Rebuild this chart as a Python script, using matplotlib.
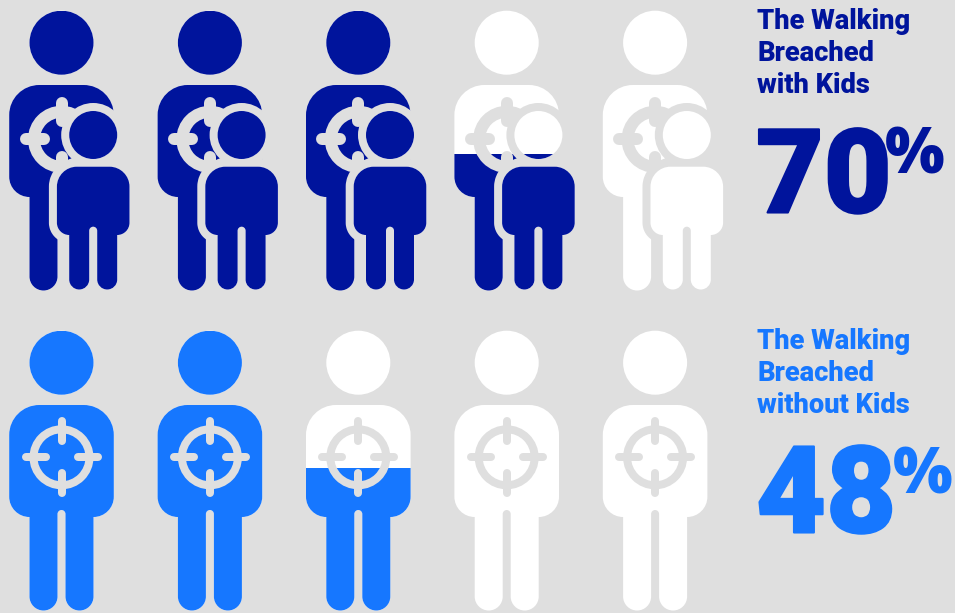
import matplotlib
matplotlib.use("Agg")
import matplotlib.pyplot as plt
import matplotlib.patheffects as pe
from matplotlib.patches import Circle, PathPatch, Rectangle
from matplotlib.path import Path

# Share of each icon that is filled, left to right
fill_with_kids = [1.0, 1.0, 1.0, 0.49, 0.0]
fill_without_kids = [1.0, 1.0, 0.51, 0.0, 0.0]
title_with_kids = ["The Walking", "Breached", "with Kids"]
title_without_kids = ["The Walking", "Breached", "without Kids"]
percent_with_kids = 70
percent_without_kids = 48

BG = "#DFDFDF"
DARK = "#00149C"
BRIGHT = "#1677FF"
EMPTY = "#FFFFFF"
FONT = "Roboto"

fig = plt.figure(figsize=(9.55, 6.13), dpi=100, facecolor=BG)
ax = fig.add_axes([0, 0, 1, 1])
ax.set_xlim(0, 955)
ax.set_ylim(613, 0)
ax.axis("off")

PX = 72 / 100
K = 0.5523


def person_path(cx, half_w, top, waist, leg_w, bottom, gap_top, gap_w, r_top):
    """Rounded torso with two round-ended legs, y growing downward."""
    inner = gap_w / 2
    outer = inner + leg_w
    r_hip = half_w - outer
    r_foot = leg_w / 2
    r_gap = gap_w / 2
    v, c = [], []

    def move(x, y):
        v.append((x, y))
        c.append(Path.MOVETO)

    def line(x, y):
        v.append((x, y))
        c.append(Path.LINETO)

    def corner(x0, y0, xc, yc, x1, y1):
        v.extend([(x0 + (xc - x0) * K, y0 + (yc - y0) * K),
                  (x1 + (xc - x1) * K, y1 + (yc - y1) * K), (x1, y1)])
        c.extend([Path.CURVE4] * 3)

    L, R = cx - half_w, cx + half_w
    move(L + r_top, top)
    line(R - r_top, top)
    corner(R - r_top, top, R, top, R, top + r_top)
    line(R, waist - r_hip)
    corner(R, waist - r_hip, R, waist, cx + outer, waist)
    line(cx + outer, bottom - r_foot)
    corner(cx + outer, bottom - r_foot, cx + outer, bottom, cx + inner + r_foot, bottom)
    corner(cx + inner + r_foot, bottom, cx + inner, bottom, cx + inner, bottom - r_foot)
    line(cx + inner, gap_top + r_gap)
    corner(cx + inner, gap_top + r_gap, cx + inner, gap_top, cx, gap_top)
    corner(cx, gap_top, cx - inner, gap_top, cx - inner, gap_top + r_gap)
    line(cx - inner, bottom - r_foot)
    corner(cx - inner, bottom - r_foot, cx - inner, bottom, cx - inner - r_foot, bottom)
    corner(cx - inner - r_foot, bottom, cx - outer, bottom, cx - outer, bottom - r_foot)
    line(cx - outer, waist)
    corner(cx - outer, waist, L, waist, L, waist - r_hip)
    line(L, top + r_top)
    corner(L, top + r_top, L, top, L + r_top, top)
    v.append((L + r_top, top))
    c.append(Path.CLOSEPOLY)
    return Path(v, c)


def two_tone(make_patch, color, clip):
    """Paint a shape white, then again in colour below the fill line."""
    ax.add_patch(make_patch(EMPTY))
    coloured = ax.add_patch(make_patch(color))
    coloured.set_clip_path(clip)


def draw_icon(cx, dy, fill, color, with_child):
    top, bottom = 11 + dy, 290.5 + dy
    cut = bottom - fill * (bottom - top)
    clip = Rectangle((0, cut), 955, bottom + 5 - cut, transform=ax.transData)

    head = lambda col: Circle((cx, 42.7 + dy), 32, fc=col, ec="none")
    body = lambda col: PathPatch(
        person_path(cx, 52.3, 85 + dy, 197 + dy, 28, 290.5 + dy, 190 + dy, 8, 30),
        fc=col, ec="none")
    two_tone(head, color, clip)
    two_tone(body, color, clip)

    # Crosshair over the chest, heavier when the child icon overlaps it
    if with_child:
        cy, stroke, radius, far, near = 139.3 + dy, 12, 27.5, 36, 18
    else:
        cy, stroke, radius, far, near = 137.3 + dy, 8, 28, 36, 16
    ax.add_patch(Circle((cx, cy), radius, fc="none", ec=BG, lw=stroke * PX))
    for sx, sy in [(0, -1), (0, 1), (-1, 0), (1, 0)]:
        ax.plot([cx + sx * far, cx + sx * near], [cy + sy * far, cy + sy * near],
                color=BG, lw=stroke * PX, solid_capstyle="round", zorder=1)

    if with_child:
        kx = cx + 31.7
        k_head = (kx, 135 + dy)
        k_path = person_path(kx, 36.3, 166.7 + dy, 235 + dy, 20, 289.5 + dy, 226.7 + dy, 8, 20)
        ax.add_patch(Circle(k_head, 32, fc=BG, ec="none"))
        ax.add_patch(PathPatch(k_path, fc=BG, ec=BG, lw=16 * PX, joinstyle="round"))
        two_tone(lambda col: Circle(k_head, 24, fc=col, ec="none"), color, clip)
        two_tone(lambda col: PathPatch(k_path, fc=col, ec="none"), color, clip)


def draw_labels(lines, value, color, dy, pct_x, num_size):
    for line, base in zip(lines, (29, 61, 93)):
        ax.text(757, base + dy, line, color=color, family=FONT, weight="black",
                fontsize=27.3 * PX, va="baseline", ha="left")
    ax.text(756, 212.5 + dy, str(value), color=color, family=FONT, weight="black",
            fontsize=num_size * PX, va="baseline", ha="left",
            path_effects=[pe.withStroke(linewidth=1.5, foreground=color)])
    ax.text(pct_x, 173.5 + dy, "%", color=color, family="Open Sans", weight=800,
            fontsize=63 * PX, va="baseline", ha="left")


CENTERS = [61.5, 209.9, 358.3, 506.7, 655.1]
for cx, f in zip(CENTERS, fill_with_kids):
    draw_icon(cx, 0, f, DARK, True)
for cx, f in zip(CENTERS, fill_without_kids):
    draw_icon(cx, 320, f, BRIGHT, False)

draw_labels(title_with_kids, percent_with_kids, DARK, 0, 885, 117)
draw_labels(title_without_kids, percent_without_kids, BRIGHT, 320, 893, 121)

fig.savefig("out.png", dpi=100, facecolor=BG)
